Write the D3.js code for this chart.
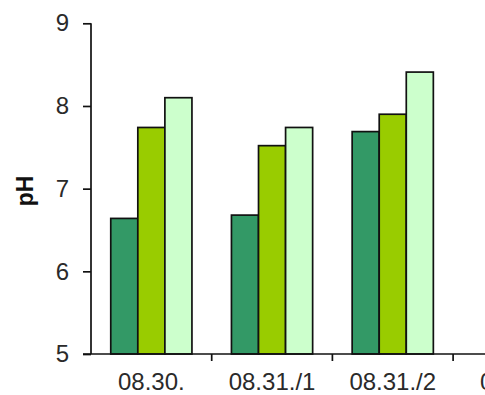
<!DOCTYPE html>
<html>
<head>
<meta charset="utf-8">
<script src="https://cdn.jsdelivr.net/npm/d3@7"></script>
<style>
  html, body { margin: 0; padding: 0; background: #fff; }
  svg { display: block; }
</style>
</head>
<body>
<svg id="chart" width="485" height="395"></svg>
<script>
const categories = ["08.30.", "08.31./1", "08.31./2", "09.01."];
const seriesNames = ["s1", "s2", "s3"];
const series1 = [6.64, 6.68, 7.69, null];
const series2 = [7.74, 7.52, 7.90, null];
const series3 = [8.10, 7.74, 8.41, null];
const yTicks = [5, 6, 7, 8, 9];
const colors = ["#339966", "#99CC00", "#CCFFCC"];

(function () {
const svg = d3.select("#chart");
const mLeft = 91, mTop = 23.3, mBottom = 354;
const step = 120.7;

const x = d3.scaleBand().domain(categories).range([mLeft, mLeft + step * categories.length]).padding(0);
const xs = d3.scaleBand().domain(seriesNames).range([0, x.bandwidth()]).paddingInner(0).paddingOuter(0.73);
const y = d3.scaleLinear().domain([5, 9]).range([mBottom, mTop]);

const values = [series1, series2, series3];

categories.forEach((c, ci) => {
  values.forEach((vals, si) => {
    const v = vals[ci];
    if (v == null) return;
    svg.append("rect")
      .attr("x", x(c) + xs(seriesNames[si]))
      .attr("y", y(v))
      .attr("width", xs.bandwidth())
      .attr("height", y(5) - y(v))
      .attr("fill", colors[si])
      .attr("stroke", "#111")
      .attr("stroke-width", 1.7);
  });
});

const yAxis = svg.append("g").attr("transform", `translate(${mLeft},0)`)
  .call(d3.axisLeft(y).tickValues(yTicks).tickSize(8).tickPadding(14).tickFormat(d3.format("d")));
yAxis.select(".domain").attr("stroke", "#111").attr("stroke-width", 1.7).attr("d", `M0,${y(9)}V${y(5)}`);
yAxis.selectAll(".tick line").attr("stroke", "#111").attr("stroke-width", 1.7);
yAxis.selectAll(".tick text")
  .attr("font-family", "Liberation Sans, Arial, sans-serif")
  .attr("font-size", 24).attr("fill", "#2a2a2a");

svg.append("line")
  .attr("x1", mLeft - 8).attr("x2", 485)
  .attr("y1", mBottom).attr("y2", mBottom)
  .attr("stroke", "#111").attr("stroke-width", 1.7);

categories.slice(1).forEach(c => {
  svg.append("line")
    .attr("x1", x(c)).attr("x2", x(c))
    .attr("y1", mBottom).attr("y2", mBottom + 7)
    .attr("stroke", "#111").attr("stroke-width", 1.7);
});

svg.selectAll(".xlab").data(categories).enter().append("text")
  .attr("class", "xlab")
  .attr("x", d => x(d) + x.bandwidth() / 2)
  .attr("y", 389.5)
  .attr("text-anchor", "middle")
  .attr("font-family", "Liberation Sans, Arial, sans-serif")
  .attr("font-size", 24).attr("fill", "#2a2a2a")
  .text(d => d);

svg.append("text")
  .attr("transform", "translate(33,191) rotate(-90)")
  .attr("text-anchor", "middle")
  .attr("font-family", "Liberation Sans, Arial, sans-serif")
  .attr("font-weight", "bold")
  .attr("font-size", 23).attr("fill", "#111")
  .text("pH");
})();
</script>
</body>
</html>
